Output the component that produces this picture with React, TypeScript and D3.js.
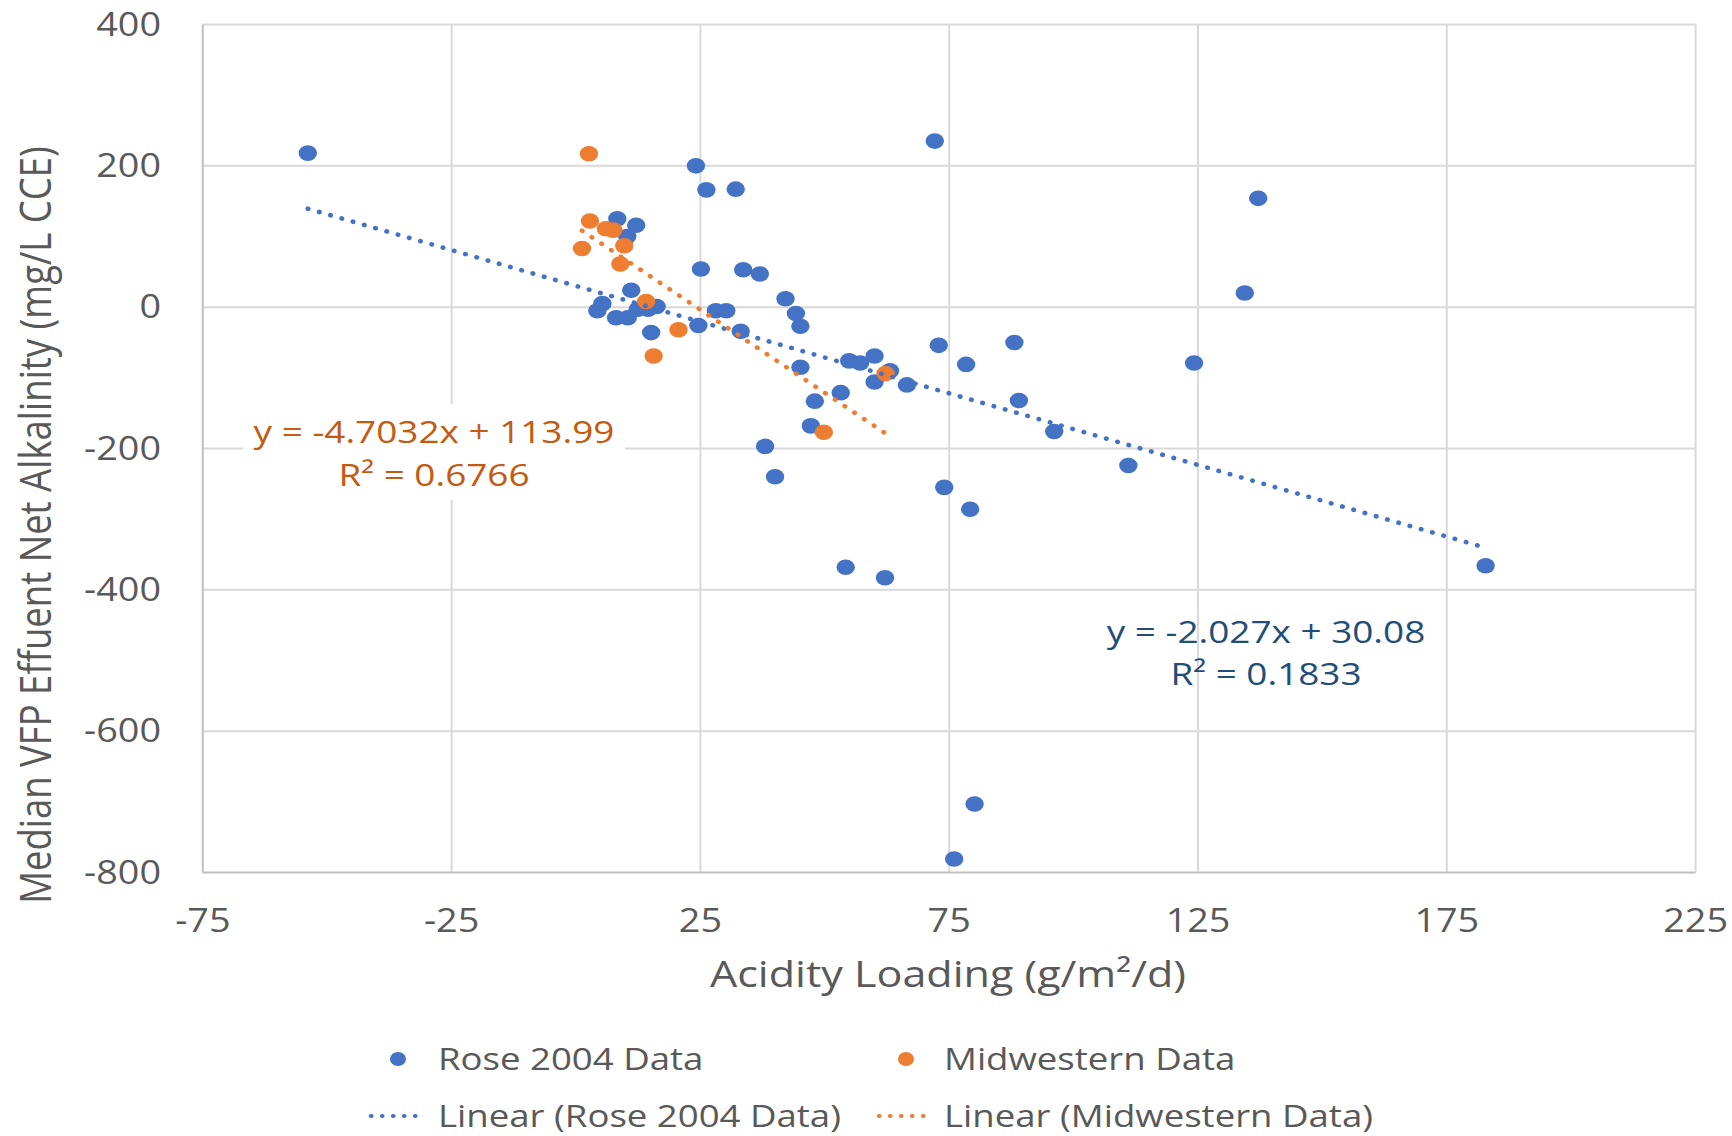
import React from "react";
import * as d3 from "d3";

// ---- data ----
const xTicks = [-75, -25, 25, 75, 125, 175, 225];
const yTicks = [400, 200, 0, -200, -400, -600, -800];

const roseX = [
  -53.9, 24.1, 26.2, 32.1, 72.1, 137.1, 134.4, 8.3, 12.1, 10.3, 25.1, 33.6, 36.95, 42.1, 44.2, 45.1,
  11.1, 5.3, 4.3, 8.05, 10.4, 12.4, 14.5, 16.2, 15.1, 24.6, 28.1, 30.2, 33.1, 45.1, 53.2, 48.0, 47.2,
  38.0, 40.0, 54.9, 57.1, 60.0, 63.1, 60.0, 66.5, 72.9, 78.4, 74.0, 79.2, 54.2, 62.1, 80.1, 76.0,
  88.1, 89.0, 96.1, 111.0, 124.2, 182.8,
];
const roseY = [
  218, 200, 166, 167, 235, 154, 20, 125, 116, 100, 54, 53, 47, 12, -9, -27,
  24, 5, -5, -15, -15, -3, -3, 1, -36, -26, -5, -5, -34, -85, -121, -133, -168,
  -197, -240, -76, -79, -69, -90, -106, -110, -54, -81, -255, -286, -368, -383, -703, -781,
  -50, -132, -176, -224, -79, -366,
];
const midX = [2.6, 2.8, 6.0, 7.5, 1.2, 9.7, 8.9, 14.1, 20.6, 15.6, 62.2, 49.8];
const midY = [217, 122, 111, 109, 83, 87, 61, 8, -32, -69, -94, -177];

const roseSlope = -2.027;
const roseIntercept = 30.08;
const midSlope = -4.7032;
const midIntercept = 113.99;

const roseEq = ["y = -2.027x + 30.08", "R² = 0.1833"];
const midEq = ["y = -4.7032x + 113.99", "R² = 0.6766"];
const legendLabels = ["Rose 2004 Data", "Midwestern Data", "Linear (Rose 2004 Data)", "Linear (Midwestern Data)"];

// ---- style ----
const W = 1732;
const H = 1136;
const SX = 1.18; // horizontal stretch of the original picture
const FONT = "'Open Sans', 'Noto Sans', sans-serif";
const BLUE = "#4472C4";
const ORANGE = "#ED7D31";
const TEXT = "#595959";
const GRID = "#D9D9D9";
const AXIS = "#BFBFBF";

function T(props: {
  x: number; y: number; size: number; fill: string; anchor?: string; rotate?: number; children: React.ReactNode;
}) {
  const { x, y, size, fill, anchor = "start", rotate = 0, children } = props;
  return (
    <text
      transform={`translate(${x},${y}) scale(${SX},1)${rotate ? ` rotate(${rotate})` : ""}`}
      fontSize={size}
      fill={fill}
      textAnchor={anchor}
      fontFamily={FONT}
    >
      {children}
    </text>
  );
}

export default function App() {
  const x = d3.scaleLinear().domain([-75, 225]).range([202.8, 1695.6]);
  const y = d3.scaleLinear().domain([-800, 400]).range([872.5, 24.5]);

  const rose = roseX.map((v, i) => [v, roseY[i]] as [number, number]);
  const mid = midX.map((v, i) => [v, midY[i]] as [number, number]);

  const trend = (xs: number[], m: number, b: number) => {
    const [lo, hi] = d3.extent(xs) as [number, number];
    return d3.line<number>().x((d) => x(d)).y((d) => y(m * d + b))([lo, hi]) || "";
  };

  const dotted = { strokeWidth: 4.6, strokeDasharray: "0.5 11.2", strokeLinecap: "round" as const, fill: "none" };
  const rx = 9.2;
  const ry = 7.8;

  return (
    <svg
      width={W}
      height={H}
      viewBox={`0 0 ${W} ${H}`}
      style={{ position: "absolute", left: 0, top: 0, background: "#fff" }}
    >
      <rect x={0} y={0} width={W} height={H} fill="#fff" />
      {/* gridlines */}
      {yTicks.filter((t) => t !== -800).map((t) => (
        <line key={"gy" + t} x1={x(-75)} x2={x(225)} y1={y(t)} y2={y(t)} stroke={GRID} strokeWidth={2} />
      ))}
      {xTicks.filter((t) => t !== -75).map((t) => (
        <line key={"gx" + t} x1={x(t)} x2={x(t)} y1={y(400)} y2={y(-800)} stroke={GRID} strokeWidth={2} />
      ))}
      {/* axis lines */}
      <line x1={x(-75)} x2={x(-75)} y1={y(400)} y2={y(-800)} stroke={AXIS} strokeWidth={2} />
      <line x1={x(-75)} x2={x(225)} y1={y(-800)} y2={y(-800)} stroke={AXIS} strokeWidth={2} />

      {/* tick labels */}
      {yTicks.map((t) => (
        <T key={"yl" + t} x={161} y={y(t) + 11} size={32} fill={TEXT} anchor="end">
          {t}
        </T>
      ))}
      {xTicks.map((t) => (
        <T key={"xl" + t} x={x(t)} y={932} size={32} fill={TEXT} anchor="middle">
          {t}
        </T>
      ))}

      {/* axis titles */}
      <T x={948} y={987} size={36.5} fill={TEXT} anchor="middle">
        Acidity Loading (g/m²/d)
      </T>
      <T x={51} y={525} size={36.5} fill={TEXT} anchor="middle" rotate={-90}>
        Median VFP Effuent Net Alkalinity (mg/L CCE)
      </T>

      {/* markers */}
      {rose.map((d, i) => (
        <ellipse key={"r" + i} cx={x(d[0])} cy={y(d[1])} rx={rx} ry={ry} fill={BLUE} />
      ))}
      {mid.map((d, i) => (
        <ellipse key={"m" + i} cx={x(d[0])} cy={y(d[1])} rx={rx} ry={ry} fill={ORANGE} />
      ))}

      {/* trendlines */}
      <path d={trend(roseX, roseSlope, roseIntercept)} stroke={BLUE} {...dotted} />
      <path d={trend(midX, midSlope, midIntercept)} stroke={ORANGE} {...dotted} />

      {/* trendline labels */}
      <rect x={243} y={404} width={382} height={96} fill="#fff" />
      <T x={434} y={443} size={31.3} fill="#C55A11" anchor="middle">{midEq[0]}</T>
      <T x={434} y={486} size={31.3} fill="#C55A11" anchor="middle">{midEq[1]}</T>
      <T x={1266} y={643} size={31.3} fill="#1F4E79" anchor="middle">{roseEq[0]}</T>
      <T x={1266} y={685} size={31.3} fill="#1F4E79" anchor="middle">{roseEq[1]}</T>

      {/* legend */}
      <ellipse cx={398} cy={1059} rx={8} ry={7} fill={BLUE} />
      <T x={438} y={1070} size={31} fill={TEXT}>{legendLabels[0]}</T>
      <ellipse cx={906} cy={1059} rx={8} ry={7} fill={ORANGE} />
      <T x={944} y={1070} size={31} fill={TEXT}>{legendLabels[1]}</T>
      <line x1={371} x2={426} y1={1116} y2={1116} stroke={BLUE} {...dotted} strokeWidth={4.2} strokeDasharray="0.5 10.5" />
      <T x={438} y={1127} size={31} fill={TEXT}>{legendLabels[2]}</T>
      <line x1={879} x2={934} y1={1116} y2={1116} stroke={ORANGE} {...dotted} strokeWidth={4.2} strokeDasharray="0.5 10.5" />
      <T x={944} y={1127} size={31} fill={TEXT}>{legendLabels[3]}</T>
    </svg>
  );
}
